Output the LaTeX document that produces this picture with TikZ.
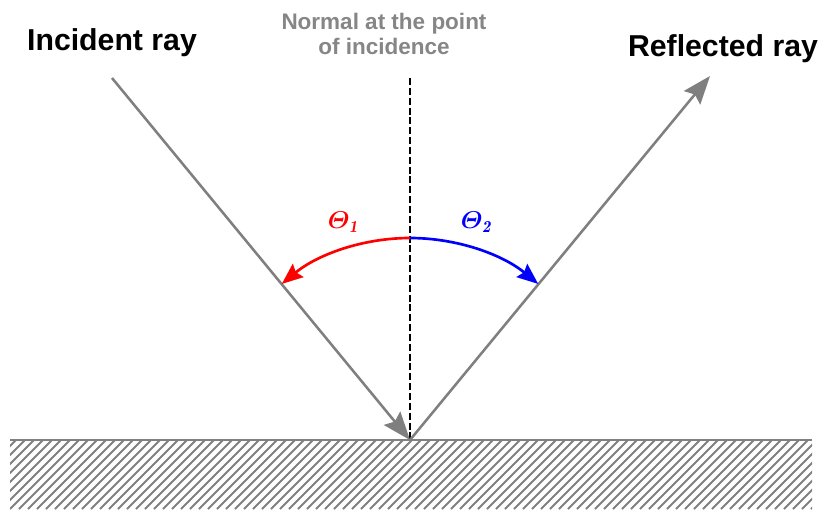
\documentclass[tikz,border=0pt]{standalone}
\usepackage{amsmath}
\usepackage{fontspec}
\setsansfont{Liberation Sans}
\usetikzlibrary{arrows.meta, positioning}
\definecolor{raygray}{HTML}{7F7F7F}
\definecolor{notegray}{HTML}{868686}
\definecolor{hatchgray}{HTML}{808080}
\definecolor{angred}{HTML}{FF0000}
\definecolor{angblue}{HTML}{0000FF}

\begin{document}
\begin{tikzpicture}[
  x=0.025cm, y=-0.025cm,
  >=Stealth,
  ray/.style={raygray, line width=1.8pt,
    -{Stealth[length=20pt, width=15pt, inset=3pt]}},
  normal/.style={black, line width=0.8pt, dash pattern=on 5pt off 2pt},
  angarc/.style={line width=1.9pt, -{Stealth[length=15pt, width=12pt, inset=2pt]}},
  raylabel/.style={font=\fontsize{21.5}{24}\sffamily\bfseries, inner sep=0pt},
  notelabel/.style={font=\fontsize{16}{17.8}\sffamily\bfseries, text=notegray,
    align=center, inner sep=0pt},
  anglabel/.style={font=\fontsize{17}{20}\selectfont\boldmath, inner sep=0pt},
  hatch/.style={hatchgray, line width=1.4pt}
]
\useasboundingbox (0,0) rectangle (825,509);

% ---- Surface ----
\begin{scope}
  \clip (10,440) rectangle (812,509);
  \foreach \i in {0,...,100} {
    \draw[hatch] (\i*9-80,509) -- ++(80,-80);
  }
\end{scope}
\draw[hatchgray, line width=1.5pt] (10,440) -- (812,440);

% ---- Points ----
\coordinate (hit) at (410,440);
\coordinate (inc) at (112,78);
\coordinate (refl) at (710,76);
\coordinate (ntop) at (410,78);
\coordinate (apex) at (410,238);

% ---- Normal and rays ----
\draw[normal] (ntop) -- (hit);
\draw[ray] (inc) -- (hit);
\draw[ray] (hit) -- (refl);

% ---- Angles ----
\draw[angarc, angred] (apex) arc[start angle=-90, end angle=-129.4, radius=202];
\draw[angarc, angblue] (apex) arc[start angle=-90, end angle=-50.6, radius=202];
\node[anglabel, text=angred] (th1) at (343,222) {$\varTheta_{\mathit{1}}$};
\node[anglabel, text=angblue] (th2) at (476,222) {$\varTheta_{\mathit{2}}$};

% ---- Labels ----
\node[raylabel, anchor=base] (incident) at (112,50) {Incident ray};
\node[raylabel, anchor=base] (reflected) at (723,56) {Reflected ray};
\node[notelabel] (normaltxt) at (384,34) {Normal at the point\\of incidence};

\end{tikzpicture}
\end{document}
